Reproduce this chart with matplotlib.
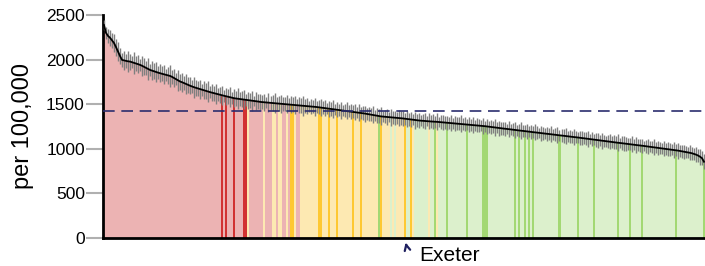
import numpy as np
import matplotlib
matplotlib.use("Agg")
import matplotlib.pyplot as plt

plt.rcParams['font.family'] = ['Liberation Sans', 'DejaVu Sans']

# rate per 100,000 for each area, sorted high to low
rates = [
    2388, 2300, 2265, 2245, 2215, 2186, 2140, 2090, 2040, 1996,
    1990, 1985, 1980, 1977, 1970, 1962, 1955, 1948, 1940, 1930,
    1918, 1905, 1893, 1883, 1876, 1868, 1860, 1853, 1846, 1840,
    1834, 1828, 1822, 1816, 1805, 1792, 1780, 1766, 1753, 1745,
    1735, 1725, 1715, 1706, 1697, 1689, 1682, 1675, 1668, 1661,
    1654, 1647, 1640, 1634, 1628, 1621, 1615, 1609, 1603, 1598,
    1593, 1588, 1583, 1577, 1571, 1566, 1563, 1561, 1558, 1555,
    1552, 1549, 1546, 1542, 1539, 1536, 1532, 1529, 1525, 1523,
    1521, 1519, 1517, 1515, 1513, 1511, 1509, 1507, 1505, 1503,
    1501, 1499, 1497, 1495, 1493, 1491, 1489, 1487, 1485, 1483,
    1481, 1479, 1477, 1475, 1473, 1470, 1468, 1465, 1463, 1460,
    1457, 1454, 1451, 1448, 1445, 1442, 1439, 1436, 1433, 1430,
    1427, 1424, 1421, 1418, 1415, 1412, 1409, 1406, 1403, 1399,
    1395, 1391, 1387, 1383, 1379, 1375, 1371, 1367, 1363, 1361,
    1359, 1357, 1355, 1353, 1351, 1349, 1347, 1345, 1343, 1340,
    1337, 1334, 1331, 1328, 1325, 1321, 1319, 1317, 1315, 1313,
    1311, 1310, 1308, 1306, 1305, 1303, 1302, 1300, 1299, 1297,
    1295, 1293, 1291, 1289, 1287, 1285, 1283, 1281, 1279, 1277,
    1275, 1273, 1271, 1269, 1267, 1265, 1263, 1261, 1259, 1256,
    1253, 1250, 1247, 1244, 1241, 1238, 1235, 1232, 1229, 1227,
    1225, 1222, 1219, 1216, 1213, 1211, 1208, 1205, 1203, 1200,
    1197, 1195, 1192, 1189, 1186, 1184, 1181, 1178, 1176, 1173,
    1170, 1168, 1165, 1162, 1160, 1157, 1154, 1151, 1149, 1146,
    1143, 1141, 1138, 1135, 1132, 1130, 1127, 1124, 1121, 1118,
    1115, 1112, 1109, 1106, 1103, 1100, 1097, 1094, 1091, 1088,
    1085, 1082, 1080, 1077, 1074, 1071, 1068, 1066, 1063, 1060,
    1057, 1054, 1052, 1049, 1046, 1043, 1040, 1038, 1035, 1032,
    1029, 1026, 1023, 1020, 1017, 1014, 1011, 1008, 1005, 1002,
    999, 996, 993, 990, 987, 984, 980, 976, 972, 968,
    964, 960, 955, 950, 943, 935, 925, 912, 895, 855,
]

# half width of the confidence interval
ci_half = [
    60, 70, 75, 90, 85, 100, 95, 110, 90, 80,
    105, 75, 115, 90, 70, 120, 85, 100, 65, 110,
    95, 80, 125, 70, 105, 90, 115, 75, 100, 85,
    110, 70, 95, 120, 80, 100, 65, 115, 90, 105,
    75, 110, 85, 95, 70, 120, 90, 80, 105, 65,
    100, 85, 115, 70, 95, 80, 110, 75, 90, 105,
    70, 95, 85, 110, 65, 100, 80, 120, 75, 90,
    105, 70, 95, 85, 110, 60, 100, 80, 90, 75,
    95, 65, 105, 80, 90, 110, 70, 85, 100, 75,
    80, 100, 70, 95, 85, 105, 65, 90, 80, 110,
    75, 90, 60, 85, 70, 100, 65, 80, 95, 70,
    85, 60, 90, 75, 105, 65, 80, 70, 95, 60,
    70, 95, 65, 85, 75, 90, 60, 100, 70, 80,
    90, 65, 80, 70, 95, 60, 85, 75, 100, 65,
    75, 85, 60, 95, 70, 80, 65, 90, 75, 85,
    65, 90, 75, 80, 60, 95, 70, 85, 65, 80,
    85, 60, 90, 70, 80, 65, 95, 60, 75, 85,
    70, 80, 65, 90, 60, 85, 75, 70, 95, 65,
    80, 65, 85, 70, 90, 60, 80, 75, 65, 90,
    60, 85, 70, 80, 65, 95, 60, 85, 70, 75,
    80, 60, 90, 65, 75, 85, 60, 70, 95, 65,
    70, 85, 60, 80, 65, 90, 70, 60, 85, 75,
    65, 80, 70, 90, 60, 75, 85, 65, 70, 80,
    85, 60, 75, 65, 90, 70, 60, 80, 75, 65,
    70, 90, 60, 80, 65, 75, 85, 60, 90, 70,
    60, 75, 85, 65, 80, 70, 95, 60, 75, 85,
    80, 65, 70, 90, 60, 85, 65, 75, 80, 60,
    75, 85, 60, 70, 90, 65, 80, 70, 60, 85,
    65, 80, 75, 60, 85, 70, 90, 65, 75, 80,
    70, 60, 85, 75, 65, 80, 70, 90, 75, 85,
]

# R/Y/G = higher / similar / lower than England, lower case = highlighted areas
status = (
    "RRRRRRRRRR" "RRRRRRRRRR" "RRRRRRRRRR" "RRRRRRRRRR" "RRRRRRRRRR"
    "RRRRRRRRRr" "RrRRRrRRRR" "rrYRRRRRRR" "YRRRYYRYYR" "RYRyyYRRYY"
    "YYYYYYYyyY" "YYyYYYyYYY" "YYYYyYYYyY" "YYYYYYYgyY" "YYYGYGYYYY"
    "yGGyYGGGGG" "GGYGGgYGGG" "GgGGGGGGGG" "GgGGGGGGGg" "ggGGGGGGGG"
    "GGGGGgGgGG" "gGgGgGGGGG" "GGGGGGGgGG" "GGGGGGgGGG" "GGGGgGGGGG"
    "GGGGGGgGGG" "GGgGGGGGgG" "GGGGGGGGGG" "GGGGGgGGGG" "GGGGGGGGGg"
)

england = 1420
label_area = "Exeter"
label_index = 150

colours = {'R': '#ecb3b3', 'r': '#d13232',
           'Y': '#fde9b2', 'y': '#fec832',
           'G': '#dcf0cc', 'g': '#a3d873'}

x = np.arange(len(rates))
bar_cols = [colours[s] for s in status]

fig = plt.figure(figsize=(7.05, 2.66), dpi=100)
ax = fig.add_axes([0.146, 0.105, 0.854, 0.839])

ax.bar(x, rates, width=1.0, color=bar_cols, linewidth=0)
ax.errorbar(x, rates, yerr=ci_half, fmt='none', ecolor='#808080',
            elinewidth=1.0, capsize=0, zorder=3)
ax.plot(x, rates, color='black', lw=1.3, zorder=4)
ax.axhline(england, color='#2b2d6e', lw=1.2, ls=(0, (7, 4)), zorder=5)

ax.set_xlim(-0.5, len(rates) - 0.5)
ax.set_ylim(0, 2500)
ax.set_yticks([0, 500, 1000, 1500, 2000, 2500])
ax.set_xticks([])
ax.tick_params(axis='y', length=12, width=1.5, color='#b0b0b0',
               labelsize=12.5, pad=1)
for side in ['top', 'right']:
    ax.spines[side].set_visible(False)
ax.spines['left'].set_linewidth(2)
ax.spines['bottom'].set_linewidth(2)
ax.set_ylabel("per 100,000", fontsize=17, labelpad=9)

ax.annotate("", xy=(label_index, -20), xytext=(label_index + 1, -115),
            annotation_clip=False,
            arrowprops=dict(arrowstyle='->', color='#1f2060', lw=1.6))
ax.text(label_index + 7, -190, label_area, fontsize=15, va='center',
        ha='left', clip_on=False)

fig.savefig("out.png", dpi=100)
